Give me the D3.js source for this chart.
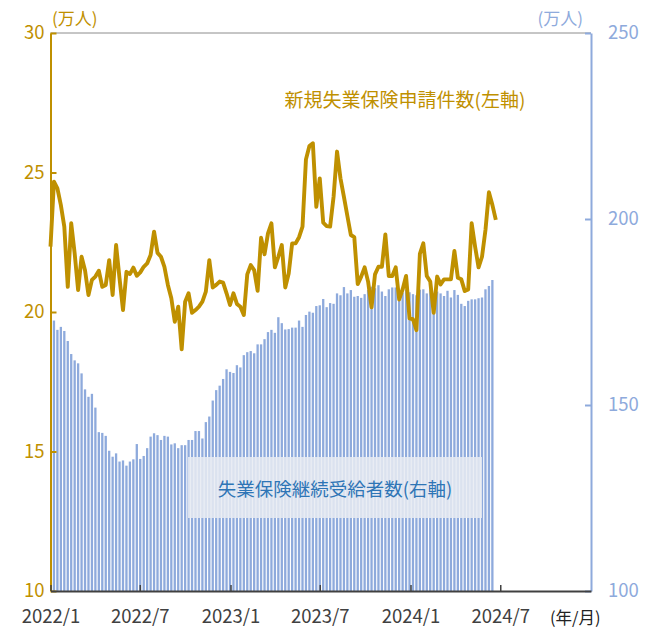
<!DOCTYPE html>
<html><head><meta charset="utf-8">
<script src="https://cdn.jsdelivr.net/npm/d3@7"></script>
<style>
html,body{margin:0;padding:0;background:#fff;}
svg text{font-family:"Noto Sans CJK JP","Noto Sans",sans-serif;}
</style></head>
<body><svg id="c" width="646" height="628"></svg>
<script>
// ---- data ----
const lineStart = "2022-01-01";   // first week of new claims series
const barStart  = "2022-01-08";   // first week of continuing claims series
// 新規失業保険申請件数 (万人, left axis), weekly
const newClaims = [22.34,24.67,24.43,23.83,23.06,20.9,23.18,22.1,20.79,21.98,
 21.5,20.61,21.15,21.27,21.48,20.9,20.97,21.86,20.61,22.4,
 21.2,20.07,21.44,21.36,21.59,21.3,21.42,21.62,21.74,22.04,
 22.88,22.12,21.98,21.62,20.97,20.49,19.65,20.19,18.66,20.37,
 20.67,19.97,20.07,20.19,20.37,20.73,21.86,20.88,20.97,21.09,
 21.05,20.67,20.25,20.67,20.29,20.19,19.89,21.35,21.68,21.5,
 20.76,22.66,22.07,22.82,23.18,21.6,21.98,22.4,20.88,21.38,
 22.46,22.46,22.68,23.06,25.47,25.95,26.05,23.77,24.79,23.2,
 23.08,23.06,24.13,25.75,24.79,24.13,23.44,22.76,22.68,21.0,
 21.27,21.6,21.09,20.17,21.35,21.62,21.62,22.78,21.29,21.29,
 21.6,20.45,20.81,21.29,19.77,19.74,19.35,22.08,22.46,21.29,
 21.09,19.97,21.27,20.99,21.17,21.17,21.17,22.19,21.23,21.17,
 20.75,20.81,23.18,22.34,21.6,21.98,22.94,24.29,23.84,23.3];
// 失業保険継続受給者数 (万人, right axis), weekly
const continuing = [172.7,170.2,171.0,169.9,167.2,163.7,162.0,161.2,158.5,154.2,
 152.2,153.0,149.3,142.7,142.5,141.7,137.7,136.1,137.0,134.8,
 135.1,133.7,134.8,135.4,139.5,135.5,136.3,138.4,141.5,142.4,
 141.9,140.6,141.7,141.5,139.4,139.7,138.4,139.2,139.2,140.6,
 140.6,143.0,143.0,141.0,145.4,146.9,151.2,154.0,155.2,157.0,
 159.6,158.9,158.6,160.7,160.1,163.4,164.2,164.5,163.9,166.3,
 166.3,167.7,169.6,170.2,169.4,173.6,172.0,170.3,170.4,170.8,
 170.8,172.7,171.0,174.2,175.1,174.8,176.6,176.8,178.5,176.3,
 177.4,177.2,180.0,179.5,181.7,180.0,180.9,179.1,179.3,178.8,
 179.8,180.9,181.8,181.4,182.2,180.5,179.3,181.1,181.6,181.6,
 178.8,180.2,181.0,180.3,179.8,179.5,181.0,181.1,180.0,181.0,
 179.5,180.5,180.0,179.3,180.7,178.9,180.9,179.6,177.2,176.6,
 178.0,178.4,178.4,178.7,178.9,181.1,182.0,183.6];
const xTickDates = ["2022-01-01","2022-07-01","2023-01-01","2023-07-01","2024-01-01","2024-07-01"];
const leftTicks = [10,15,20,25,30];
const rightTicks = [100,150,200,250];
const lineLabel = "新規失業保険申請件数(左軸)";
const barLabel = "失業保険継続受給者数(右軸)";
const unitLabel = "(万人)";
const xUnitLabel = "(年/月)";

// ---- chart ----
const parse = d3.utcParse("%Y-%m-%d");
const gold = "#bf9000", blue = "#8eaadc", textBlue = "#2e75b6", dark = "#404040";
const svg = d3.select("#c");
const L = 50.5, R = 591, T = 33, B = 591;

const x = d3.scaleUtc().domain([parse("2022-01-01"), parse("2025-01-01")]).range([L, R]);
const yL = d3.scaleLinear().domain([10, 30]).range([B, T]);
const yR = d3.scaleLinear().domain([100, 250]).range([B, T]);

const lineDates = newClaims.map((_, i) => d3.utcDay.offset(parse(lineStart), 7 * i));
const barDates = continuing.map((_, i) => d3.utcDay.offset(parse(barStart), 7 * i));

// top border
svg.append("line").attr("x1", L).attr("x2", R).attr("y1", T).attr("y2", T)
  .attr("stroke", "#8c8c8c").attr("stroke-width", 1);

// bars
const bw = 2.3;
svg.append("g").selectAll("rect").data(continuing).join("rect")
  .attr("x", (d, i) => x(barDates[i]) - bw / 2)
  .attr("y", d => yR(d))
  .attr("width", bw)
  .attr("height", d => B - yR(d))
  .attr("fill", blue);

// legend box for bars
svg.append("rect").attr("x", 188).attr("y", 457).attr("width", 294).attr("height", 61)
  .attr("fill", "#e8ebf2").attr("fill-opacity", 0.86);
svg.append("text").attr("x", 335).attr("y", 488).attr("text-anchor", "middle")
  .attr("dominant-baseline", "central").attr("font-size", 18.5).attr("fill", textBlue)
  .text(barLabel);

// line
svg.append("path").datum(newClaims)
  .attr("fill", "none").attr("stroke", gold).attr("stroke-width", 3.9)
  .attr("stroke-linejoin", "round")
  .attr("d", d3.line().x((d, i) => x(lineDates[i])).y(d => yL(d)));

svg.append("text").attr("x", 405).attr("y", 98).attr("text-anchor", "middle")
  .attr("dominant-baseline", "central").attr("font-size", 19).attr("fill", gold)
  .text(lineLabel);

// axes
const gl = svg.append("g").attr("transform", `translate(${L},0)`)
  .call(d3.axisLeft(yL).tickValues(leftTicks).tickSize(-6).tickSizeOuter(0).tickPadding(6));
gl.select(".domain").attr("stroke", gold).attr("stroke-width", 2);
gl.selectAll(".tick line").attr("stroke", gold).attr("stroke-width", 2);
gl.selectAll(".tick text").attr("fill", gold).attr("font-size", 18.5)
  .style("font-family", '"Noto Sans CJK JP",sans-serif');

const gr = svg.append("g").attr("transform", `translate(${R},0)`)
  .call(d3.axisRight(yR).tickValues(rightTicks).tickSize(-6).tickSizeOuter(0).tickPadding(17));
gr.select(".domain").attr("stroke", blue).attr("stroke-width", 2);
gr.selectAll(".tick line").attr("stroke", blue).attr("stroke-width", 2);
gr.selectAll(".tick text").attr("fill", blue).attr("font-size", 18.5)
  .style("font-family", '"Noto Sans CJK JP",sans-serif');

const gb = svg.append("g").attr("transform", `translate(0,${B})`)
  .call(d3.axisBottom(x).tickValues(xTickDates.map(parse)).tickFormat(d3.utcFormat("%Y/%-m"))
    .tickSize(-6).tickSizeOuter(0).tickPadding(19));
gb.select(".domain").attr("stroke", dark).attr("stroke-width", 2);
gb.selectAll(".tick line").attr("stroke", dark).attr("stroke-width", 1.5);
gb.selectAll(".tick text").attr("fill", dark).attr("font-size", 18.5)
  .style("font-family", '"Noto Sans CJK JP",sans-serif');

// unit labels
svg.append("text").attr("x", 52).attr("y", 17).attr("dominant-baseline", "central")
  .attr("font-size", 17).attr("fill", gold).text(unitLabel);
svg.append("text").attr("x", 583).attr("y", 17).attr("text-anchor", "end").attr("dominant-baseline", "central")
  .attr("font-size", 17).attr("fill", blue).text(unitLabel);
svg.append("text").attr("x", 550).attr("y", 617).attr("dominant-baseline", "central")
  .attr("font-size", 16.5).attr("fill", "#222").text(xUnitLabel);
</script></body></html>
